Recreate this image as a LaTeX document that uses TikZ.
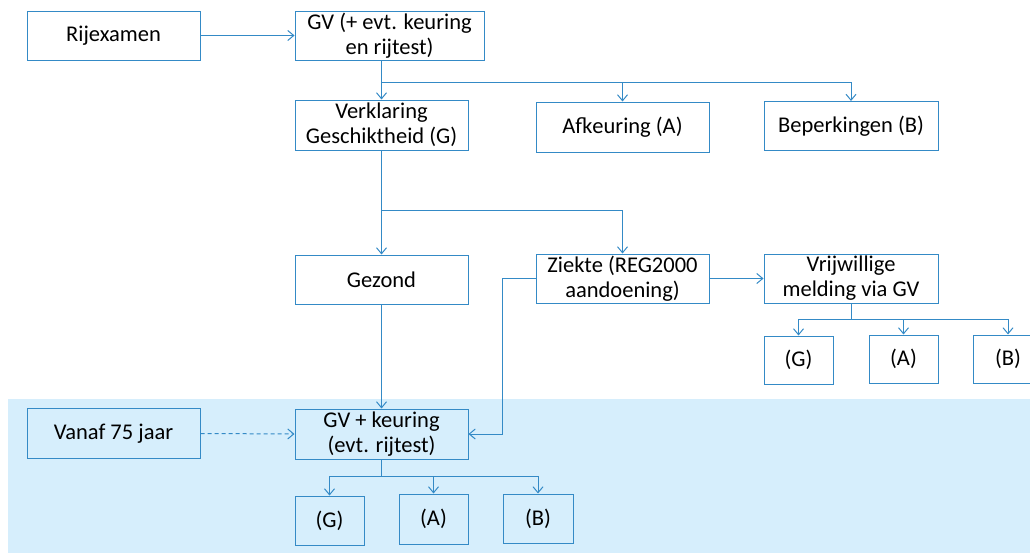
\documentclass[tikz,border=0pt]{standalone}
\usepackage{fontspec}
\setmainfont{Carlito}
\usepackage{tikz}
\usetikzlibrary{arrows.meta}
\definecolor{linkblue}{RGB}{52, 138, 198}
\definecolor{bandblue}{RGB}{214, 238, 252}

\begin{document}
\begin{tikzpicture}[x=1pt, y=-1pt,
        box/.style={draw=linkblue, line width=1pt, inner sep=0pt, align=center,
                    font=\fontsize{22.5}{25}\selectfont, text=black},
        wide/.style={box, minimum width=173pt, minimum height=49pt},
        small/.style={box, minimum width=69pt, minimum height=48pt},
        link/.style={linkblue, line width=1pt, -{Straight Barb[length=6pt, width=10pt]}}]
            % Frame to fix the picture size
            \clip                                              (0, 0) rectangle (1030, 554);
            % Band of the periodic check
            \fill[bandblue]                                    (8, 399) rectangle (1030, 553);
            % Route at the driving exam
            \node[wide]                          (rijexamen)   at (113.5,  35.5) {Rijexamen};
            \node[wide, minimum width=189pt]     (gvtop)       at (389.5,  35.5) {GV (+ evt. keuring\\en rijtest)};
            \node[wide, minimum height=50pt]     (verklaring)  at (381.5, 125.0) {Verklaring\\Geschiktheid (G)};
            \node[wide, minimum height=50pt]     (afkeuring)   at (622.5, 127.0) {Afkeuring (A)};
            \node[wide, minimum width=174pt]     (beperkingen) at (851.0, 126.0) {Beperkingen (B)};
            \draw[link] (rijexamen.east) -- (gvtop.west);
            \coordinate (splittop) at (381.5, 82);
            \draw[linkblue, line width=1pt] (verklaring.north |- gvtop.south) -- (splittop);
            \draw[link] (splittop) -- (verklaring.north);
            \draw[link] (splittop) -| (afkeuring.north);
            \draw[link] (splittop) -| (beperkingen.north);
            % Healthy or ill
            \node[wide]                          (gezond)      at (381.5, 279.5) {Gezond};
            \node[wide]                          (ziekte)      at (622.5, 278.5) {Ziekte (REG2000\\aandoening)};
            \node[wide, minimum width=174pt]     (vrijwillig)  at (851.0, 278.5) {Vrijwillige\\melding via GV};
            \coordinate (splitmid) at (381.5, 210);
            \draw[link] (verklaring.south) -- (gezond.north);
            \draw[link] (splitmid) -| (ziekte.north);
            \draw[link] (ziekte.east) -- (vrijwillig.west);
            % Outcome of the voluntary report
            \node[small]                         (vrijG)       at ( 798.5, 360.0) {(G)};
            \node[small]                         (vrijA)       at ( 903.5, 359.0) {(A)};
            \node[small, minimum width=70pt]     (vrijB)       at (1008.0, 359.0) {(B)};
            \coordinate (splitvrij) at (851, 319);
            \draw[linkblue, line width=1pt] (vrijwillig.south) -- (splitvrij);
            \draw[link] (splitvrij) -| (vrijG.north);
            \draw[link] (splitvrij) -| (vrijA.north);
            \draw[link] (splitvrij) -| (vrijB.north);
            % Periodic check
            \node[wide, minimum height=50pt]     (vanaf)       at (113.5, 433.5) {Vanaf 75 jaar};
            \node[wide, minimum height=50pt]     (gvkeuring)   at (381.5, 434.0) {GV + keuring\\(evt. rijtest)};
            \coordinate (bendziekte) at (502, 278.5);
            \draw[link] (gezond.south) -- (gvkeuring.north);
            \draw[link] (ziekte.west) -- (bendziekte) |- (gvkeuring.east);
            \draw[link, dash pattern=on 4pt off 3pt] (vanaf.east) -- (gvkeuring.west);
            % Outcome of the periodic check
            \node[small, minimum height=49pt]    (keurG)       at (329.5, 520.5) {(G)};
            \node[small, minimum height=50pt]    (keurA)       at (433.5, 519.0) {(A)};
            \node[small, minimum width=70pt, minimum height=49pt] (keurB) at (538.0, 518.5) {(B)};
            \coordinate (splitkeur) at (381.5, 476);
            \draw[linkblue, line width=1pt] (gvkeuring.south) -- (splitkeur);
            \draw[link] (splitkeur) -| (keurG.north);
            \draw[link] (splitkeur) -| (keurA.north);
            \draw[link] (splitkeur) -| (keurB.north);
        \end{tikzpicture}
\end{document}
